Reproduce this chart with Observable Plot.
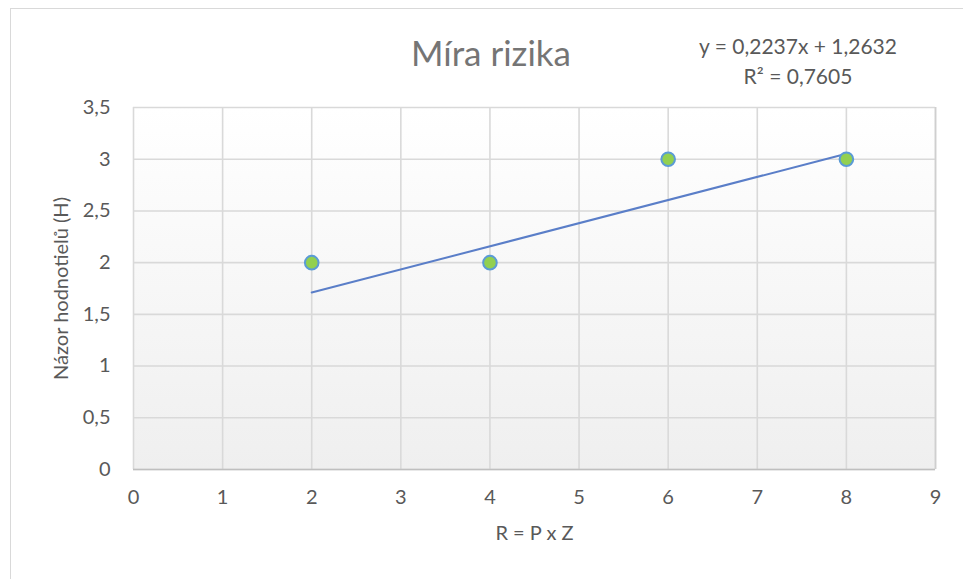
<!DOCTYPE html>
<html>
<head>
<meta charset="utf-8">
<script src="https://cdn.jsdelivr.net/npm/d3@7"></script>
<script src="https://cdn.jsdelivr.net/npm/@observablehq/plot@0.6"></script>
<style>
  html, body { margin: 0; padding: 0; background: #fff; }
  #wrap { position: relative; width: 963px; height: 579px; overflow: hidden; font-family: Lato, sans-serif; }
  #border { position: absolute; left: 10px; top: 8px; width: 980px; height: 600px; border: 1px solid #d9d9d9; box-sizing: border-box; }
  .t { position: absolute; color: #595959; white-space: nowrap; }
</style>
</head>
<body>
<div id="wrap">
  <div id="border"></div>
  <div id="chart" style="position:absolute;left:0;top:0"></div>
  <div class="t" id="title" style="left:491px;top:32px;transform:translateX(-50%);font-size:35px;line-height:40px;color:#757575;"></div>
  <div class="t" id="eq" style="left:798px;top:31px;transform:translateX(-50%);text-align:center;font-size:21px;line-height:30px;"></div>
</div>
<script>
const titleText = "Míra rizika";
const xLabel = "R = P x Z";
const yLabel = "Názor hodnotielů (H)";
const xValues = [2, 4, 6, 8];
const yValues = [2, 2, 3, 3];
const slope = [0.2237];
const intercept = [1.2632];
const r2 = [0.7605];
const xTicks = [0, 1, 2, 3, 4, 5, 6, 7, 8, 9];
const yTicks = [0, 0.5, 1, 1.5, 2, 2.5, 3, 3.5];

const fmt = v => String(v).replace(".", ",");
const points = xValues.map((x, i) => ({x, y: yValues[i]}));
const xMin = d3.min(xValues), xMax = d3.max(xValues);
const trend = [xMin, xMax].map(x => ({x, y: slope[0] * x + intercept[0]}));

document.getElementById("title").textContent = titleText;
document.getElementById("eq").innerHTML =
  "y = " + fmt(slope[0]) + "x + " + fmt(intercept[0]) + "<br>R² = " + fmt(r2[0]);

const plot = Plot.plot({
  width: 963,
  height: 579,
  marginLeft: 133,
  marginRight: 28,
  marginTop: 107,
  marginBottom: 110,
  style: { fontFamily: "Lato, sans-serif", fontSize: "20px", color: "#595959", background: "transparent" },
  x: { domain: [0, 9], ticks: xTicks, tickFormat: fmt, tickSize: 0, tickPadding: 20, label: xLabel, labelAnchor: "center", labelOffset: 70, labelArrow: "none" },
  y: { domain: [0, 3.5], ticks: yTicks, tickFormat: fmt, tickSize: 0, tickPadding: 23, label: yLabel, labelAnchor: "center", labelOffset: 80, labelArrow: "none" },
  marks: [
    Plot.frame({ fill: "url(#plotGrad)", stroke: null }),
    Plot.gridX(xTicks, { stroke: "#d9d9d9", strokeWidth: 1.6, strokeOpacity: 1 }),
    Plot.gridY(yTicks, { stroke: "#d9d9d9", strokeWidth: 1.6, strokeOpacity: 1 }),
    Plot.ruleY([0], { stroke: "#bfbfbf", strokeWidth: 1.6 }),
    Plot.ruleX([9], { stroke: "#cfcfcf", strokeWidth: 1.6 }),
    Plot.line(trend, { x: "x", y: "y", stroke: "#5a7ec8", strokeWidth: 2 }),
    Plot.dot(points, { x: "x", y: "y", r: 6.8, fill: "#92d050", stroke: "#5b9bd5", strokeWidth: 2 })
  ]
});

const defs = d3.create("svg:defs");
const grad = defs.append("linearGradient").attr("id", "plotGrad").attr("x1", 0).attr("y1", 0).attr("x2", 0).attr("y2", 1);
grad.append("stop").attr("offset", "0%").attr("stop-color", "#ffffff");
grad.append("stop").attr("offset", "100%").attr("stop-color", "#efefef");
plot.insertBefore(defs.node(), plot.firstChild);
d3.select(plot).selectAll("text").attr("fill", "#595959");
document.getElementById("chart").appendChild(plot);
</script>
</body>
</html>
